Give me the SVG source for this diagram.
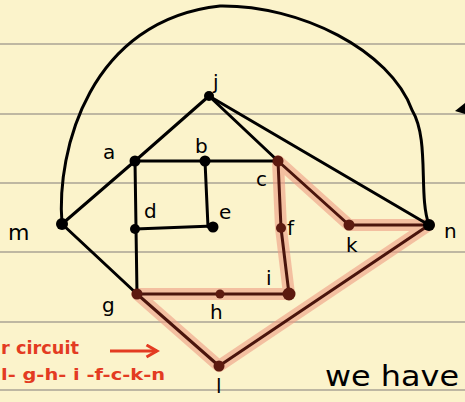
<svg xmlns="http://www.w3.org/2000/svg" width="465" height="402" viewBox="0 0 465 402">
<defs>
<style>
.rule{stroke:#aaa394;stroke-width:1.5}
.e{stroke:#000;stroke-width:3;fill:none;stroke-linecap:round}
.glow{stroke:#ee9c84;stroke-opacity:0.6;stroke-width:12;fill:none;stroke-linecap:round;stroke-linejoin:round}
.r{stroke:#4a140c;stroke-width:3;fill:none;stroke-linecap:round}
.n{fill:#000}
.nr{fill:#5c1a10}
.lbl{font-family:"DejaVu Sans",sans-serif;font-size:20px;fill:#000}
.red{font-family:"DejaVu Sans",sans-serif;font-size:17px;fill:#e33b22;font-weight:bold}
</style>
<marker id="ah" viewBox="0 0 10 10" refX="8" refY="5" markerWidth="5" markerHeight="5" orient="auto"><path d="M1,1 L8,5 L1,9" fill="none" stroke="#e33b22" stroke-width="2"/></marker>
</defs>
<rect width="465" height="402" fill="#fbf3cb"/>
<g id="rules">
<line class="rule" x1="0" y1="44" x2="465" y2="44"/>
<line class="rule" x1="0" y1="114" x2="465" y2="114"/>
<line class="rule" x1="0" y1="183" x2="465" y2="183"/>
<line class="rule" x1="0" y1="252" x2="465" y2="252"/>
<line class="rule" x1="0" y1="322" x2="465" y2="322"/>
<line class="rule" x1="0" y1="390" x2="465" y2="390"/>
</g>
<g id="connectors">
<path class="glow" d="M278,161 L281,228 L289,294 L220,294 L137,294 L219,366 L429,225 L349,225 L278,161"/>
<path class="e" d="M62,224 C56,150 90,20 220,6 C300,5 390,50 412,110 C430,140 418,195 429,225"/>
<line class="e" x1="62" y1="224" x2="135" y2="161"/>
<line class="e" x1="62" y1="224" x2="137" y2="294"/>
<line class="e" x1="135" y1="161" x2="209" y2="96"/>
<line class="e" x1="209" y1="96" x2="278" y2="161"/>
<line class="e" x1="209" y1="96" x2="429" y2="225"/>
<line class="e" x1="135" y1="161" x2="278" y2="161"/>
<line class="e" x1="135" y1="161" x2="137" y2="294"/>
<line class="e" x1="205" y1="161" x2="208" y2="227"/>
<line class="e" x1="135" y1="229" x2="213" y2="226"/>
<line class="r" x1="278" y1="161" x2="281" y2="228"/>
<line class="r" x1="281" y1="228" x2="289" y2="294"/>
<line class="r" x1="278" y1="161" x2="349" y2="225"/>
<line class="r" x1="349" y1="225" x2="429" y2="225"/>
<line class="r" x1="429" y1="225" x2="219" y2="366"/>
<line class="r" x1="219" y1="366" x2="137" y2="294"/>
<line class="r" x1="137" y1="294" x2="289" y2="294"/>
</g>
<g id="node-j"><circle class="n" cx="209" cy="96" r="5"/><text class="lbl" x="213" y="89">j</text></g>
<g id="node-a"><circle class="n" cx="135" cy="161" r="5.5"/><text class="lbl" x="103" y="159">a</text></g>
<g id="node-b"><circle class="n" cx="205" cy="161" r="5.5"/><text class="lbl" x="195" y="153">b</text></g>
<g id="node-c"><circle class="nr" cx="278" cy="161" r="5.5"/><text class="lbl" x="256" y="186">c</text></g>
<g id="node-d"><circle class="n" cx="135" cy="229" r="5"/><text class="lbl" x="144" y="218">d</text></g>
<g id="node-e"><circle class="n" cx="213" cy="227" r="5.5"/><text class="lbl" x="219" y="219">e</text></g>
<g id="node-f"><circle class="nr" cx="281" cy="228" r="5"/><text class="lbl" x="287" y="235">f</text></g>
<g id="node-k"><circle class="nr" cx="349" cy="225" r="5.5"/><text class="lbl" x="346" y="252">k</text></g>
<g id="node-n"><circle class="n" cx="429" cy="225" r="6"/><text class="lbl" x="444" y="238">n</text></g>
<g id="node-i"><circle class="nr" cx="289" cy="294" r="6.5"/><text class="lbl" x="266" y="285">i</text></g>
<g id="node-h"><circle class="nr" cx="220" cy="294" r="4.5"/><text class="lbl" x="210" y="319">h</text></g>
<g id="node-g"><circle class="nr" cx="137" cy="294" r="5.5"/><text class="lbl" x="102" y="312">g</text></g>
<g id="node-l"><circle class="nr" cx="219" cy="366" r="5.5"/><text class="lbl" x="216" y="393">l</text></g>
<g id="node-m"><circle class="n" cx="62" cy="224" r="6"/><text class="lbl" x="8" y="240" style="font-size:22px">m</text></g>
<polygon points="455,111 465,103 465,114" fill="#000"/>
<g id="notes">
<text class="red" x="1" y="354" textLength="78" lengthAdjust="spacingAndGlyphs">r circuit</text>
<line x1="110" y1="351" x2="157" y2="351" stroke="#e33b22" stroke-width="3" marker-end="url(#ah)"/>
<text class="red" x="1" y="380" style="font-size:16px" textLength="164" lengthAdjust="spacingAndGlyphs">l- g-h- i -f-c-k-n</text>
<text x="325" y="386" textLength="134" lengthAdjust="spacingAndGlyphs" style="font-family:'DejaVu Sans',sans-serif;font-size:29px;fill:#000">we have</text>
</g>
</svg>
